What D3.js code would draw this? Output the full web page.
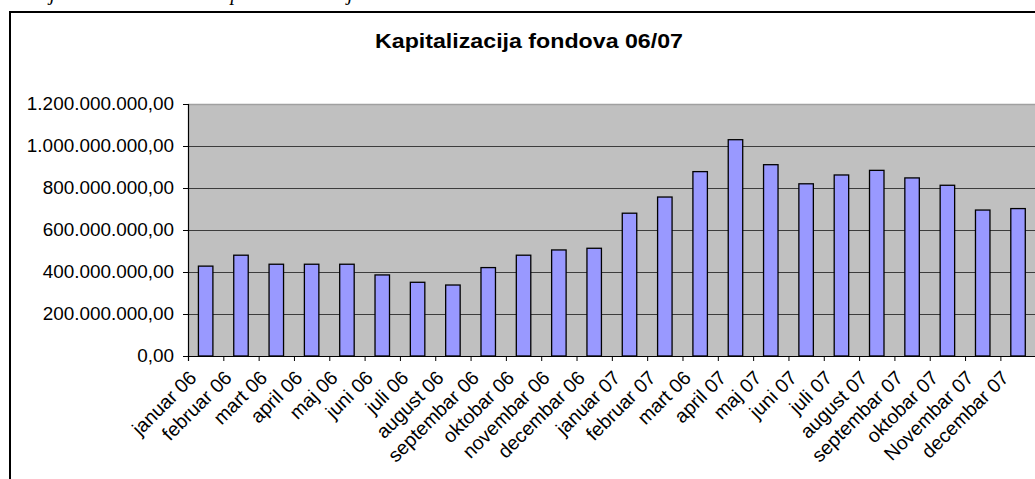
<!DOCTYPE html>
<html>
<head>
<meta charset="utf-8">
<script src="https://cdn.jsdelivr.net/npm/d3@7"></script>
<style>
  body { margin: 0; background: #fff; }
  svg { display: block; }
</style>
</head>
<body>
<div id="chart"></div>
<script>
// months (index 14 really says "mart 06" in the original)
const months = ["januar 06", "februar 06", "mart 06", "april 06", "maj 06", "juni 06",
    "juli 06", "august 06", "septembar 06", "oktobar 06", "novembar 06", "decembar 06",
    "januar 07", "februar 07", "mart 06", "april 07", "maj 07", "juni 07",
    "juli 07", "august 07", "septembar 07", "oktobar 07", "Novembar 07", "decembar 07"]

// kapitalizacija, in dinars
const capital = [428e6, 480e6, 437e6, 437e6, 437e6, 386e6, 351e6, 338e6, 421e6, 480e6, 505e6, 513e6,
    680e6, 757e6, 878e6, 1030e6, 911e6, 820e6, 862e6, 884e6, 848e6, 813e6, 695e6, 702e6]

const yTicks = [0, 200e6, 400e6, 600e6, 800e6, 1000e6, 1200e6]

const W = 1035, H = 479
const plot = {left: 188, top: 104, bottom: 356, right: 1035.7}

const locale = d3.formatLocale({decimal: ",", thousands: ".", grouping: [3], currency: ["", ""]})
const fmt = locale.format(",.2f")

const svg = d3.select("#chart")
    .append("svg")
    .attr("width", W)
    .attr("height", H)

svg.append("rect").attr("width", W).attr("height", H).attr("fill", "#fff")

// cut-off line of the document text above the chart
svg.append("text")
    .attr("x", 16)
    .attr("y", -0.5)
    .style("font-family", "'Liberation Serif', 'Times New Roman', serif")
    .style("font-style", "italic")
    .style("font-size", "20.3px")
    .text("Ovaj trend se lako vidi na prikazu kretanja.")

// chart frame
svg.append("rect")
    .attr("x", 10).attr("y", 12)
    .attr("width", 1100).attr("height", 600)
    .attr("fill", "none")
    .attr("stroke", "#000")
    .attr("stroke-width", 2)

svg.append("text")
    .attr("x", 529)
    .attr("y", 48)
    .attr("text-anchor", "middle")
    .attr("textLength", 308)
    .attr("lengthAdjust", "spacingAndGlyphs")
    .style("font-family", "Arial, 'Liberation Sans', sans-serif")
    .style("font-weight", "bold")
    .style("font-size", "20px")
    .text("Kapitalizacija fondova 06/07")

const x = d3.scaleBand()
    .domain(d3.range(months.length))
    .range([plot.left, plot.right])
    .padding(0)

const y = d3.scaleLinear()
    .domain([0, 1200e6])
    .range([plot.bottom, plot.top])

// plot area
svg.append("rect")
    .attr("x", plot.left)
    .attr("y", plot.top)
    .attr("width", plot.right - plot.left + 2)
    .attr("height", plot.bottom - plot.top)
    .attr("fill", "#c0c0c0")

// gridlines
svg.append("g")
    .selectAll("line")
    .data(yTicks.slice(1))
    .join("line")
    .attr("x1", plot.left)
    .attr("x2", plot.right + 2)
    .attr("y1", d => Math.round(y(d)) + 0.5)
    .attr("y2", d => Math.round(y(d)) + 0.5)
    .attr("stroke", d => d === 1200e6 ? "#a0a0a0" : "#3c3c3c")
    .attr("stroke-width", d => d === 1200e6 ? 1.5 : 1)

// bars
const barW = x.bandwidth() * 0.41
svg.append("g")
    .selectAll("rect")
    .data(capital)
    .join("rect")
    .attr("x", (d, i) => x(i) + (x.bandwidth() - barW) / 2)
    .attr("y", d => y(d))
    .attr("width", barW)
    .attr("height", d => y(0) - y(d))
    .attr("fill", "#9999ff")
    .attr("stroke", "#000")
    .attr("stroke-width", 1.3)

// y axis
const yAxis = svg.append("g")
    .attr("transform", `translate(${plot.left},0)`)
    .call(d3.axisLeft(y).tickValues(yTicks).tickSize(5).tickPadding(9).tickFormat(fmt))
yAxis.select(".domain").attr("stroke", "#000").attr("stroke-width", 1.2)
yAxis.selectAll("line").attr("stroke", "#000")
yAxis.selectAll("text")
    .attr("fill", "#000")
    .style("font-family", "Arial, 'Liberation Sans', sans-serif")
    .style("font-size", "18px")
    .each(function() {
        const w = this.getComputedTextLength()
        d3.select(this).attr("textLength", w * 1.05).attr("lengthAdjust", "spacingAndGlyphs")
    })

// x axis: line and ticks between categories
const xb = d3.scaleLinear().domain([0, months.length]).range([plot.left, plot.right])
const xAxis = svg.append("g")
    .attr("transform", `translate(0,${plot.bottom})`)
    .call(d3.axisBottom(xb).ticks(months.length).tickSize(5).tickFormat(""))
xAxis.select(".domain").attr("stroke", "#000").attr("stroke-width", 1.2)
xAxis.selectAll("line").attr("stroke", "#000")

// rotated month labels
svg.append("g")
    .selectAll("text")
    .data(months)
    .join("text")
    .attr("text-anchor", "end")
    .attr("transform", (d, i) => `translate(${x(i) + x.bandwidth() / 2 - 8},${plot.bottom + 23}) rotate(-45)`)
    .style("font-family", "Arial, 'Liberation Sans', sans-serif")
    .style("font-size", "19.5px")
    .text(d => d)
</script>
</body>
</html>
